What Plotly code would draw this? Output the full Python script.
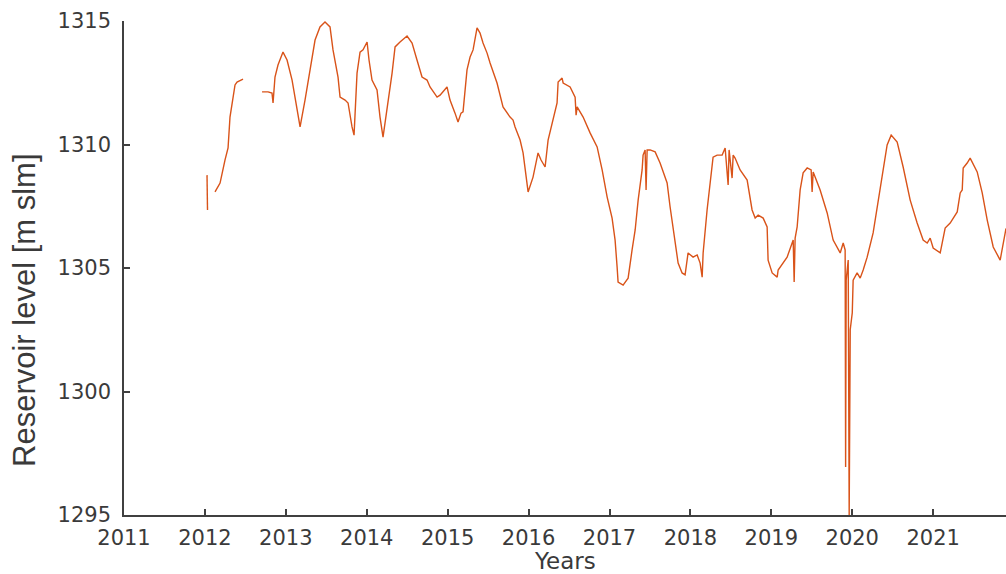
import plotly.graph_objects as go

# Decimal years and reservoir levels [m slm]; None marks gaps in the record
years = [
    2012.026, 2012.032, None,
    2012.125, 2012.187, 2012.248, 2012.286, 2012.310, 2012.347, 2012.372, 2012.397, 2012.471, None,
    2012.706, 2012.780, 2012.829, 2012.842, 2012.866, 2012.903, 2012.965, 2013.015, 2013.077, 2013.126,
    2013.176, 2013.237, 2013.299, 2013.361, 2013.422, 2013.484, 2013.546, 2013.583, 2013.645, 2013.670,
    2013.732, 2013.769, 2013.818, 2013.843, 2013.880, 2013.917, 2013.954, 2014.004, 2014.028, 2014.065,
    2014.127, 2014.164, 2014.201, 2014.251, 2014.313, 2014.350, 2014.411, 2014.498, 2014.560, 2014.621,
    2014.683, 2014.745, 2014.782, 2014.869, 2014.906, 2014.992, 2015.029, 2015.091, 2015.128, 2015.165,
    2015.190, 2015.239, 2015.277, 2015.314, 2015.363, 2015.400, 2015.437, 2015.487, 2015.524, 2015.610,
    2015.684, 2015.771, 2015.808, 2015.833, 2015.895, 2015.932, 2015.981, 2015.994, 2016.055, 2016.117,
    2016.154, 2016.204, 2016.241, 2016.291, 2016.352, 2016.365, 2016.414, 2016.427, 2016.513, 2016.575,
    2016.587, 2016.600, 2016.674, 2016.760, 2016.847, 2016.909, 2016.971, 2017.032, 2017.069, 2017.094,
    2017.106, 2017.168, 2017.230, 2017.279, 2017.317, 2017.354, 2017.403, 2017.415, 2017.440, 2017.452,
    2017.465, 2017.502, 2017.564, 2017.625, 2017.712, 2017.749, 2017.811, 2017.848, 2017.897, 2017.934,
    2017.971, 2018.033, 2018.083, 2018.120, 2018.145, 2018.157, 2018.206, 2018.243, 2018.280, 2018.330,
    2018.392, 2018.429, 2018.466, 2018.478, 2018.515, 2018.528, 2018.552, 2018.614, 2018.701, 2018.762,
    2018.800, 2018.837, 2018.899, 2018.948, 2018.960, 2019.010, 2019.072, 2019.084, 2019.195, 2019.270,
    2019.282, 2019.294, 2019.319, 2019.356, 2019.393, 2019.443, 2019.492, 2019.504, 2019.517, 2019.541,
    2019.603, 2019.690, 2019.764, 2019.851, 2019.888, 2019.912, 2019.918, 2019.925, 2019.950, 2019.962,
    2019.975, 2020.000, 2020.011, 2020.060, 2020.098, 2020.135, 2020.184, 2020.258, 2020.320, 2020.382,
    2020.431, 2020.481, 2020.555, 2020.629, 2020.716, 2020.802, 2020.876, 2020.926, 2020.963, 2021.000,
    2021.087, 2021.111, 2021.148, 2021.210, 2021.247, 2021.297, 2021.334, 2021.359, 2021.371, 2021.420,
    2021.457, 2021.544, 2021.606, 2021.668, 2021.742, 2021.803, 2021.828, 2021.890, 2021.900,
]
levels = [
    1308.76, 1307.35, None,
    1308.08, 1308.44, 1309.37, 1309.86, 1311.11, 1311.80, 1312.41, 1312.53, 1312.65, None,
    1312.13, 1312.13, 1312.08, 1311.68, 1312.73, 1313.22, 1313.74, 1313.42, 1312.61, 1311.60,
    1310.71, 1311.80, 1313.02, 1314.23, 1314.76, 1314.96, 1314.76, 1313.83, 1312.73, 1311.92,
    1311.80, 1311.68, 1310.71, 1310.38, 1312.89, 1313.74, 1313.83, 1314.15, 1313.42, 1312.61,
    1312.21, 1311.11, 1310.30, 1311.40, 1312.89, 1313.95, 1314.15, 1314.39, 1314.11, 1313.42,
    1312.73, 1312.61, 1312.33, 1311.92, 1312.00, 1312.33, 1311.80, 1311.27, 1310.91, 1311.27,
    1311.32, 1313.02, 1313.54, 1313.83, 1314.72, 1314.51, 1314.11, 1313.70, 1313.30, 1312.49,
    1311.52, 1311.11, 1310.99, 1310.71, 1310.18, 1309.66, 1308.56, 1308.08, 1308.68, 1309.66,
    1309.37, 1309.09, 1310.18, 1310.87, 1311.68, 1312.53, 1312.69, 1312.49, 1312.33, 1311.92,
    1311.19, 1311.52, 1311.11, 1310.47, 1309.90, 1308.97, 1307.87, 1307.02, 1306.13, 1305.04,
    1304.43, 1304.31, 1304.59, 1305.73, 1306.54, 1307.75, 1308.97, 1309.57, 1309.78, 1308.16,
    1309.78, 1309.78, 1309.70, 1309.25, 1308.44, 1307.47, 1306.13, 1305.20, 1304.80, 1304.72,
    1305.61, 1305.44, 1305.53, 1305.20, 1304.63, 1305.61, 1307.35, 1308.44, 1309.49, 1309.57,
    1309.57, 1309.86, 1308.36, 1309.78, 1308.64, 1309.57, 1309.45, 1308.97, 1308.56, 1307.35,
    1307.02, 1307.14, 1307.02, 1306.66, 1305.32, 1304.80, 1304.63, 1304.92, 1305.44, 1306.13,
    1304.43, 1306.21, 1306.66, 1308.16, 1308.85, 1309.05, 1308.97, 1308.08, 1308.89, 1308.68,
    1308.16, 1307.23, 1306.13, 1305.61, 1306.01, 1305.73, 1296.94, 1304.51, 1305.32, 1295.00,
    1302.50, 1303.18, 1304.51, 1304.80, 1304.59, 1304.92, 1305.44, 1306.42, 1307.75, 1309.09,
    1309.98, 1310.38, 1310.10, 1309.09, 1307.75, 1306.82, 1306.13, 1306.01, 1306.21, 1305.81,
    1305.61, 1306.01, 1306.62, 1306.82, 1307.02, 1307.27, 1308.04, 1308.16, 1309.05, 1309.25,
    1309.45, 1308.89, 1308.04, 1306.94, 1305.85, 1305.44, 1305.32, 1306.42, 1306.60,
]

x_ticks = [2011, 2012, 2013, 2014, 2015, 2016, 2017, 2018, 2019, 2020, 2021]
y_ticks = [1295, 1300, 1305, 1310, 1315]

axis_color = "#404040"
tick_font = dict(family="DejaVu Sans", size=21, color="#3a3a3a")

fig = go.Figure()
fig.add_trace(go.Scatter(
    x=years, y=levels, mode="lines", connectgaps=False,
    line=dict(color="#D95319", width=1.4), showlegend=False, hoverinfo="skip",
))

fig.update_layout(
    width=1006, height=574,
    margin=dict(l=124, r=0, t=21, b=59),
    paper_bgcolor="white", plot_bgcolor="white",
    showlegend=False,
    xaxis=dict(
        range=[2011, 2021.9], tickmode="array", tickvals=x_ticks,
        ticktext=[str(t) for t in x_ticks],
        showgrid=False, zeroline=False, showline=True, linecolor=axis_color, linewidth=1.5,
        ticks="inside", ticklen=6, tickwidth=1.5, tickcolor=axis_color,
        tickfont=tick_font, ticklabelstandoff=3,
    ),
    yaxis=dict(
        range=[1295, 1315], tickmode="array", tickvals=y_ticks,
        ticktext=[str(t) for t in y_ticks],
        showgrid=False, zeroline=False, showline=True, linecolor=axis_color, linewidth=1.5,
        ticks="inside", ticklen=6, tickwidth=1.5, tickcolor=axis_color,
        tickfont=tick_font, ticklabelstandoff=7,
    ),
    annotations=[
        dict(text="Years", xref="paper", yref="paper", x=0.5, y=0, yshift=-46,
             xanchor="center", yanchor="middle", showarrow=False,
             font=dict(family="DejaVu Sans", size=23, color="#3a3a3a")),
        dict(text="Reservoir level [m slm]", xref="paper", yref="paper", x=0, y=0.415,
             xshift=-99, xanchor="center", yanchor="middle", textangle=-90, showarrow=False,
             font=dict(family="Liberation Sans", size=31, color="#3a3a3a")),
    ],
)

fig.write_html(
    "out.html",
    config={"displayModeBar": False},
    post_script="document.body.style.margin='0';document.body.style.overflow='hidden';",
)
